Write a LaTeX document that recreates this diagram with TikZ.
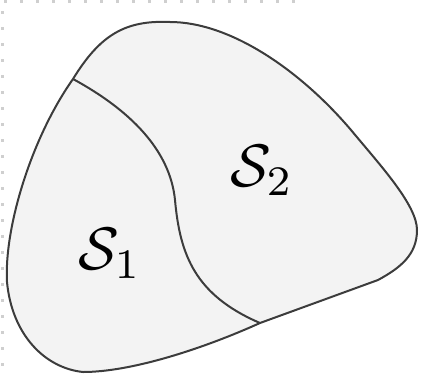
\documentclass[tikz,border=0pt]{standalone}
\usepackage{tikz}
\definecolor{regionfill}{HTML}{F3F3F3}
\definecolor{edgecol}{HTML}{3C3C3C}
\definecolor{dotcol}{HTML}{CFCFCF}
\begin{document}
\begin{tikzpicture}[x=0.5pt,y=-0.5pt,
  outline/.style={draw=edgecol,line width=1pt},
  lbl/.style={scale=3,inner sep=0pt},
  gdot/.style={fill=dotcol}]
\useasboundingbox (0,0) rectangle (438,375);
% faint dotted frame
\foreach \i in {0,...,18} {\fill[gdot] (4+16*\i,0) rectangle (7+16*\i,3);}
\foreach \j in {0,...,22} {\fill[gdot] (1,11+16*\j) rectangle (4,14+16*\j);}
\coordinate (J1) at (73,79);
\coordinate (J2) at (260,323);
% outer region
\path[outline,fill=regionfill] (J1)
  .. controls (100,35) and (125,20) .. (170,22)
  .. controls (230,22) and (300,70) .. (351,130)
  .. controls (380,165) and (417,205) .. (417,230)
  .. controls (417,255) and (400,268) .. (378,280)
  -- (J2)
  .. controls (200,350) and (130,372) .. (83,372)
  .. controls (45,368) and (12,335) .. (7,282)
  .. controls (4,230) and (30,140) .. (J1) -- cycle;
% divider
\draw[outline] (J1) .. controls (130,110) and (170,150) .. (175,200)
  .. controls (180,255) and (195,295) .. (J2);
\node[lbl] (s1) at (110,253) {$\mathcal{S}_1$};
\node[lbl] (s2) at (262,170) {$\mathcal{S}_2$};
\end{tikzpicture}
\end{document}
